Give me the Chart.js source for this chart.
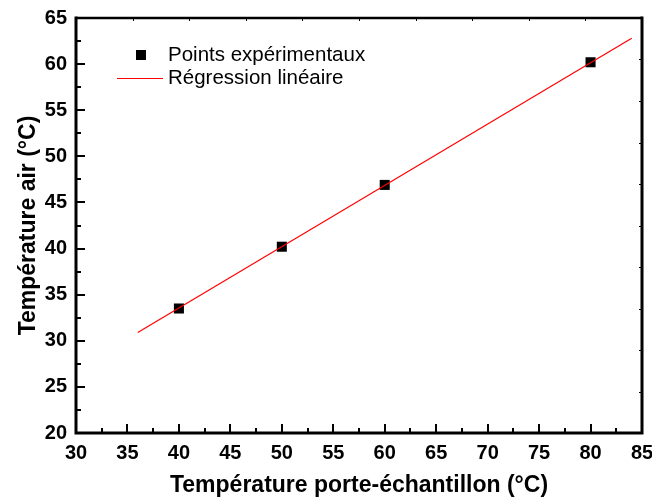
<!DOCTYPE html>
<html>
<head>
<meta charset="utf-8">
<script src="https://cdn.jsdelivr.net/npm/chart.js@4/dist/chart.umd.min.js"></script>
<style>
  html, body { margin: 0; padding: 0; background: #fff; }
  #wrap { width: 652px; height: 501px; }
</style>
</head>
<body>
<div id="wrap"><canvas id="chart"></canvas></div>
<script>
// data
const pointsX = [40, 50, 60, 80];
const pointsY = [33.5, 40.2, 46.9, 60.2];
const fitX = [36, 84];
const fitY = [30.9, 62.8];

const xLabel = 'Température porte-échantillon (°C)';
const yLabel = 'Température air (°C)';
const pointsLabel = 'Points expérimentaux';
const fitLabel = 'Régression linéaire';

const FONT = 'Arial, "Liberation Sans", sans-serif';

Chart.defaults.font.family = FONT;
Chart.defaults.font.size = 20;
Chart.defaults.font.weight = 'bold';
Chart.defaults.color = '#000';

// frame, inward ticks and legend, drawn after the datasets
const framePlugin = {
  id: 'frame',
  afterDraw(chart) {
    const ctx = chart.ctx;
    const a = chart.chartArea;
    const xs = chart.scales.x, ys = chart.scales.y;
    ctx.save();
    ctx.strokeStyle = '#000';
    ctx.lineCap = 'butt';

    // bottom + left ticks (major 5, minor 2.5)
    ctx.lineWidth = 2;
    for (let v = 30; v <= 85; v += 2.5) {
      const px = Math.round(xs.getPixelForValue(v));
      const len = (v % 5 === 0) ? 9 : 5;
      ctx.beginPath(); ctx.moveTo(px, a.bottom); ctx.lineTo(px, a.bottom - len); ctx.stroke();
    }
    for (let v = 20; v <= 65; v += 2.5) {
      const py = Math.round(ys.getPixelForValue(v));
      const len = (v % 5 === 0) ? 9 : 5;
      ctx.beginPath(); ctx.moveTo(a.left, py); ctx.lineTo(a.left + len, py); ctx.stroke();
    }
    // top + right tiny ticks
    ctx.lineWidth = 1;
    for (let i = 1; i < 10; i++) {
      const px = Math.round(xs.getPixelForValue(30 + 5.5 * i)) + 0.5;
      ctx.beginPath(); ctx.moveTo(px, a.top); ctx.lineTo(px, a.top + 3); ctx.stroke();
      const py = Math.round(ys.getPixelForValue(20 + 4.5 * i)) + 0.5;
      ctx.beginPath(); ctx.moveTo(a.right, py); ctx.lineTo(a.right - 3, py); ctx.stroke();
    }

    // frame
    ctx.lineWidth = 3;
    ctx.beginPath();
    ctx.moveTo(a.left, a.top - 1.5); ctx.lineTo(a.left, a.bottom);
    ctx.lineTo(a.right, a.bottom); ctx.lineTo(a.right, a.top - 1.5);
    ctx.stroke();
    ctx.lineWidth = 2.5;
    ctx.beginPath(); ctx.moveTo(a.left, a.top); ctx.lineTo(a.right, a.top); ctx.stroke();

    // legend
    ctx.font = '20.5px ' + FONT;
    ctx.fillStyle = '#000';
    ctx.textBaseline = 'alphabetic';
    ctx.fillRect(a.left + 60, 50, 10, 10);
    ctx.fillText(pointsLabel, a.left + 92, 61);
    ctx.strokeStyle = '#ff0000';
    ctx.lineWidth = 1.2;
    ctx.beginPath(); ctx.moveTo(a.left + 41, 78.5); ctx.lineTo(a.left + 87, 78.5); ctx.stroke();
    ctx.fillText(fitLabel, a.left + 92, 84);
    ctx.restore();
  }
};

new Chart(document.getElementById('chart'), {
  type: 'scatter',
  data: {
    datasets: [
      {
        label: fitLabel,
        data: fitX.map((x, i) => ({ x: x, y: fitY[i] })),
        showLine: true,
        borderColor: '#ff0000',
        borderWidth: 1.2,
        pointRadius: 0,
        fill: false
      },
      {
        label: pointsLabel,
        data: pointsX.map((x, i) => ({ x: x, y: pointsY[i] })),
        pointStyle: 'rect',
        pointRadius: 7.1,
        backgroundColor: '#000',
        borderColor: '#000',
        borderWidth: 0
      }
    ]
  },
  options: {
    responsive: true,
    maintainAspectRatio: false,
    animation: false,
    layout: { padding: { top: 18, right: 10, left: 0, bottom: 0 } },
    plugins: { legend: { display: false }, tooltip: { enabled: false } },
    scales: {
      x: {
        type: 'linear', min: 30, max: 85,
        afterFit: (s) => { s.height = 68; s.paddingRight = 0; s.paddingLeft = 0; },
        ticks: { stepSize: 5, color: '#000', padding: 8, font: { size: 20, weight: 'bold' } },
        grid: { display: false, drawTicks: false },
        border: { display: false },
        title: { display: true, text: xLabel, color: '#000', padding: { top: 0, bottom: 2 }, font: { size: 23, weight: 'bold' } }
      },
      y: {
        type: 'linear', min: 20, max: 65,
        afterFit: (s) => { s.width = 76; s.paddingTop = 0; s.paddingBottom = 0; },
        ticks: { stepSize: 5, color: '#000', padding: 9, font: { size: 20, weight: 'bold' } },
        grid: { display: false, drawTicks: false },
        border: { display: false },
        title: { display: true, text: yLabel, color: '#000', padding: { top: 15, bottom: 0 }, font: { size: 23, weight: 'bold' } }
      }
    }
  },
  plugins: [framePlugin]
});
</script>
</body>
</html>
